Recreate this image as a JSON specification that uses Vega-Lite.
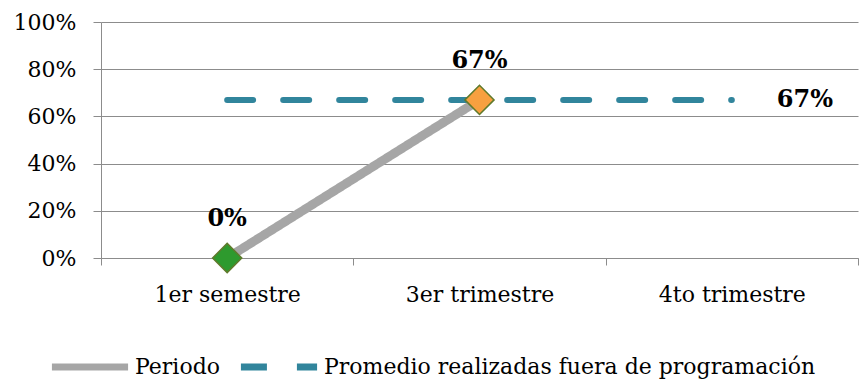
{
  "$schema": "https://vega.github.io/schema/vega-lite/v6.json",
  "width": 757,
  "height": 236,
  "autosize": {"type": "none"},
  "padding": {"left": 101, "top": 22, "right": 2, "bottom": 121},
  "config": {
    "font": "DejaVu Serif",
    "view": {"stroke": null},
    "axis": {"labelColor": "#000000", "domainColor": "#8c8c8c", "tickColor": "#8c8c8c", "gridColor": "#8c8c8c", "title": null, "labelFont": "DejaVu Serif"}
  },
  "datasets": {
    "periodo": [
      {"periodo": "1er semestre", "valor": 0, "serie": "Periodo"},
      {"periodo": "3er trimestre", "valor": 0.67, "serie": "Periodo"}
    ],
    "promedio": [
      {"periodo": "1er semestre", "valor": 0.67, "serie": "Promedio realizadas fuera de programación"},
      {"periodo": "3er trimestre", "valor": 0.67, "serie": "Promedio realizadas fuera de programación"},
      {"periodo": "4to trimestre", "valor": 0.67, "serie": "Promedio realizadas fuera de programación"}
    ]
  },
  "encoding": {
    "x": {
      "field": "periodo", "type": "nominal",
      "scale": {"domain": ["1er semestre", "3er trimestre", "4to trimestre"], "paddingInner": 0, "paddingOuter": 0},
      "axis": {"labelAngle": 0, "labelFontSize": 22, "labelPadding": 19, "tickSize": 7, "tickBand": "extent", "grid": false}
    },
    "y": {
      "field": "valor", "type": "quantitative",
      "scale": {"domain": [0, 1], "nice": false},
      "axis": {"values": [0, 0.2, 0.4, 0.6, 0.8, 1], "format": ".0%", "labelFontSize": 22, "tickSize": 8, "labelPadding": 17, "grid": true}
    }
  },
  "layer": [
    {
      "data": {"name": "promedio"},
      "mark": {"type": "line", "strokeWidth": 6, "strokeCap": "round"},
      "encoding": {
        "color": {"field": "serie", "type": "nominal", "scale": {"domain": ["Periodo", "Promedio realizadas fuera de programación"], "range": ["#a6a6a6", "#31859c"]},
          "legend": {"orient": "none", "legendX": -53, "legendY": 303, "direction": "horizontal", "title": null, "labelFontSize": 22, "labelFont": "DejaVu Serif", "labelColor": "#000000", "symbolSize": 5800, "symbolStrokeWidth": 7, "columnPadding": 6, "labelOffset": 3, "labelLimit": 600}},
        "strokeDash": {"field": "serie", "type": "nominal", "scale": {"domain": ["Periodo", "Promedio realizadas fuera de programación"], "range": [[1, 0], [26, 30]]}}
      }
    },
    {
      "data": {"name": "periodo"},
      "mark": {"type": "line", "strokeWidth": 9},
      "encoding": {
        "color": {"field": "serie", "type": "nominal"},
        "strokeDash": {"field": "serie", "type": "nominal"}
      }
    },
    {
      "data": {"name": "periodo"},
      "mark": {"type": "point", "shape": "diamond", "filled": true, "size": 850, "stroke": "#5f7a2b", "strokeWidth": 1.5, "opacity": 1},
      "encoding": {
        "fill": {"condition": {"test": "datum.valor > 0.5", "value": "#f7a040"}, "value": "#2e9a2e"}
      }
    },
    {
      "data": {"name": "periodo"},
      "mark": {"type": "text", "dy": -39, "fontSize": 24, "fontWeight": "bold", "color": "#000000"},
      "encoding": {"text": {"field": "valor", "type": "quantitative", "format": ".0%"}}
    },
    {
      "data": {"name": "promedio"},
      "transform": [{"filter": "datum.periodo == '4to trimestre'"}],
      "mark": {"type": "text", "dx": 73, "fontSize": 24, "fontWeight": "bold", "color": "#000000"},
      "encoding": {"text": {"field": "valor", "type": "quantitative", "format": ".0%"}}
    }
  ]
}
